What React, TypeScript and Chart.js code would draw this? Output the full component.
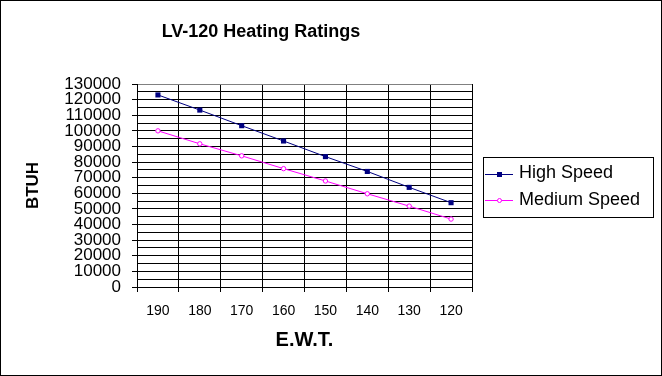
import React, { useEffect, useRef } from 'react';
import { Chart, registerables } from 'chart.js';

Chart.register(...registerables);

const categories = ['190', '180', '170', '160', '150', '140', '130', '120'];
const highSpeed = [123000, 113300, 103300, 93500, 83500, 74000, 63800, 54000];
const mediumSpeed = [100000, 91700, 84000, 75800, 67900, 59700, 51800, 43500];
const seriesNames = ['High Speed', 'Medium Speed'];
const yMin = 0;
const yMax = 130000;
const yGridStep = 5000;
const yLabelStep = 10000;
const chartTitle = 'LV-120 Heating Ratings';
const xAxisTitle = 'E.W.T.';
const yAxisTitle = 'BTUH';

const FONT = "Arial, 'Liberation Sans', sans-serif";

const framePlugin = {
  id: 'frame',
  beforeDraw(chart: any) {
    const { ctx, width, height } = chart;
    ctx.save();
    ctx.fillStyle = '#ffffff';
    ctx.fillRect(0, 0, width, height);
    ctx.restore();
  },
  afterDraw(chart: any) {
    const { ctx, width, height } = chart;
    ctx.save();
    ctx.strokeStyle = '#000000';
    ctx.lineWidth = 1;
    ctx.strokeRect(0.5, 0.5, width - 1, height - 1);
    ctx.restore();
  },
};

const boxLegendPlugin = {
  id: 'boxLegend',
  afterDraw(chart: any, _args: any, opts: any) {
    const { ctx } = chart;
    const { left, top, width, height, rowOffsets, lineStart, lineEnd, textX, fontSize } = opts;
    ctx.save();
    ctx.strokeStyle = '#000000';
    ctx.lineWidth = 1;
    ctx.strokeRect(left + 0.5, top + 0.5, width, height);
    chart.data.datasets.forEach((ds: any, i: number) => {
      const cy = top + rowOffsets[i];
      const ly = Math.round(cy) + 0.5;
      ctx.strokeStyle = ds.borderColor;
      ctx.lineWidth = 1;
      ctx.beginPath();
      ctx.moveTo(left + lineStart, ly);
      ctx.lineTo(left + lineEnd, ly);
      ctx.stroke();
      const mx = left + (lineStart + lineEnd) / 2;
      if (ds.pointStyle === 'rect') {
        ctx.fillStyle = ds.pointBackgroundColor;
        ctx.fillRect(Math.round(mx) - 2, Math.round(cy) - 2, 5, 5);
      } else {
        ctx.fillStyle = ds.pointBackgroundColor;
        ctx.strokeStyle = ds.pointBorderColor;
        ctx.beginPath();
        ctx.arc(Math.round(mx) + 0.5, ly, 2, 0, Math.PI * 2);
        ctx.fill();
        ctx.stroke();
      }
      ctx.fillStyle = '#000000';
      ctx.font = `${fontSize}px ${FONT}`;
      ctx.textBaseline = 'middle';
      ctx.textAlign = 'left';
      ctx.fillText(ds.label, left + textX, cy);
    });
    ctx.restore();
  },
};

export default function App() {
  const canvasRef = useRef<HTMLCanvasElement | null>(null);

  useEffect(() => {
    document.body.style.margin = '0';
    const canvas = canvasRef.current;
    if (!canvas) return;
    Chart.defaults.font.family = FONT;
    const chart = new Chart(canvas, {
      type: 'line',
      data: {
        labels: categories,
        datasets: [
          {
            label: seriesNames[0],
            data: highSpeed,
            borderColor: '#000080',
            backgroundColor: '#000080',
            borderWidth: 1,
            pointStyle: 'rect',
            pointRadius: 3.6,
            pointBackgroundColor: '#000080',
            pointBorderColor: '#000080',
            pointBorderWidth: 0,
            tension: 0,
          },
          {
            label: seriesNames[1],
            data: mediumSpeed,
            borderColor: '#FF00FF',
            backgroundColor: '#FF00FF',
            borderWidth: 1,
            pointStyle: 'circle',
            pointRadius: 2.2,
            pointBackgroundColor: '#ffffff',
            pointBorderColor: '#FF00FF',
            pointBorderWidth: 1,
            tension: 0,
          },
        ],
      },
      options: {
        responsive: false,
        animation: false,
        devicePixelRatio: 1,
        layout: { padding: { left: 50, right: 190, top: 0, bottom: 0 } },
        plugins: {
          legend: { display: false },
          tooltip: { enabled: false },
          title: {
            display: true,
            text: chartTitle,
            color: '#000000',
            font: { size: 18, weight: 'bold', family: FONT },
            padding: { top: 21, bottom: 41.4 },
          },
          boxLegend: {
            left: 483,
            top: 157,
            width: 170,
            height: 60,
            rowOffsets: [16.5, 43],
            lineStart: 2,
            lineEnd: 30,
            textX: 36,
            fontSize: 18,
          },
        } as any,
        scales: {
          x: {
            type: 'category',
            offset: true,
            grid: {
              offset: true,
              display: true,
              color: (ctx: any) => (ctx.index === categories.length ? '#808080' : '#000000'),
              tickColor: '#000000',
              tickLength: 5,
              lineWidth: 1,
            },
            border: { display: true, color: '#000000', width: 1 },
            ticks: {
              color: '#000000',
              font: { size: 14, family: FONT },
              padding: 11,
              autoSkip: false,
              maxRotation: 0,
            },
            title: {
              display: true,
              text: xAxisTitle,
              color: '#000000',
              font: { size: 20, weight: 'bold', family: FONT },
              padding: { top: 0, bottom: 23.5 },
            },
            afterFit: (scale: any) => {
              scale.height = 89;
            },
          },
          y: {
            type: 'linear',
            min: yMin,
            max: yMax,
            grid: {
              display: true,
              color: (ctx: any) => (ctx.tick && ctx.tick.value === yMax ? '#808080' : '#000000'),
              tickColor: (ctx: any) =>
                ctx.tick && ctx.tick.value % yLabelStep === 0 ? '#000000' : 'rgba(0,0,0,0)',
              tickLength: 5,
              lineWidth: 1,
            },
            border: { display: true, color: '#000000', width: 1 },
            ticks: {
              stepSize: yGridStep,
              maxTicksLimit: 40,
              autoSkip: false,
              color: '#000000',
              font: { size: 17, family: FONT },
              padding: 11,
              callback: (v: any) => (Number(v) % yLabelStep === 0 ? String(v) : ''),
            },
            title: {
              display: true,
              text: yAxisTitle,
              color: '#000000',
              font: { size: 17, weight: 'bold', family: FONT },
              padding: { top: -27.2, bottom: 0 },
            },
            afterFit: (scale: any) => {
              scale.width = 87;
            },
          },
        },
      },
      plugins: [framePlugin, boxLegendPlugin],
    } as any);
    return () => chart.destroy();
  }, []);

  return (
    <canvas
      ref={canvasRef}
      width={662}
      height={376}
      style={{ display: 'block', width: '662px', height: '376px' }}
    />
  );
}
